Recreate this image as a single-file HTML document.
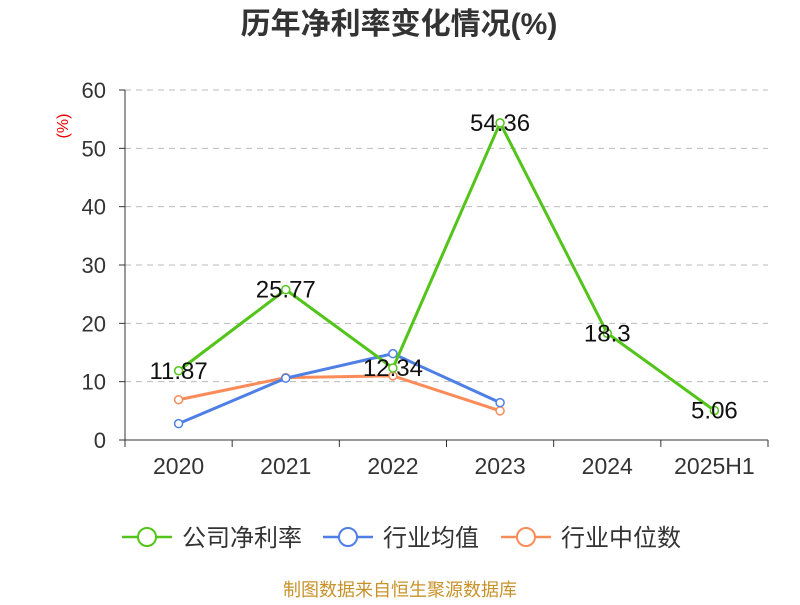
<!DOCTYPE html>
<html><head><meta charset="utf-8"><style>
body{margin:0;background:#fff;font-family:"Liberation Sans","Noto Sans CJK SC",sans-serif}
</style></head><body>
<svg width="800" height="600" xmlns="http://www.w3.org/2000/svg" font-family="Liberation Sans, Noto Sans CJK SC, sans-serif">
<text x="399" y="34" text-anchor="middle" font-size="30" font-weight="bold" fill="#333">历年净利率变化情况(%)</text>
<text x="68" y="126" font-size="16" fill="#e00" transform="rotate(-90 68 126)" text-anchor="middle">(%)</text>
<g id="grid"></g><g id="axes"></g><g id="series"></g>
<g font-size="24" fill="#333">
<g><line x1="122" y1="537" x2="172" y2="537" stroke="#52c41a" stroke-width="2.5"/><circle cx="147" cy="537" r="9" fill="#fff" stroke="#52c41a" stroke-width="2"/><text x="182" y="546">公司净利率</text></g>
<g><line x1="323" y1="537" x2="373" y2="537" stroke="#4e7fe5" stroke-width="2.5"/><circle cx="348" cy="537" r="9" fill="#fff" stroke="#4e7fe5" stroke-width="2"/><text x="383" y="546">行业均值</text></g>
<g><line x1="501" y1="537" x2="551" y2="537" stroke="#fa8c5a" stroke-width="2.5"/><circle cx="526" cy="537" r="9" fill="#fff" stroke="#fa8c5a" stroke-width="2"/><text x="561" y="546">行业中位数</text></g>
</g>
<text x="400" y="596" text-anchor="middle" font-size="18" fill="#c8922a">制图数据来自恒生聚源数据库</text>
</svg>
<script>
const categories=["2020","2021","2022","2023","2024","2025H1"];
const companyValues=[11.87,25.77,12.34,54.36,18.3,5.06];
const industryAvg=[2.8,10.6,14.8,6.4];
const industryMedian=[6.9,10.7,11.0,5.0];
const yTicks=[0,10,20,30,40,50,60];
const NS="http://www.w3.org/2000/svg";
const x0=125,x1=768,y0=440,y1=90;
const band=(x1-x0)/categories.length;
const xPos=i=>x0+band*(i+0.5);
const yPos=v=>y0-(v/60)*(y0-y1);
function mk(p,t,a){const e=document.createElementNS(NS,t);for(const k in a)e.setAttribute(k,a[k]);p.appendChild(e);return e;}
const grid=document.getElementById('grid'),axes=document.getElementById('axes'),ser=document.getElementById('series');
yTicks.forEach(v=>{
 if(v>0){const g=mk(grid,'line',{x1:x0,x2:x1,y1:yPos(v),y2:yPos(v),stroke:'#bbb','stroke-dasharray':'6,5'});
 
 }
 const t=mk(axes,'text',{x:106,y:yPos(v)+8,'text-anchor':'end','font-size':22,fill:'#333'});t.textContent=v;
 
 
 mk(axes,'line',{x1:x0-6,x2:x0,y1:yPos(v),y2:yPos(v),stroke:'#333'});
});
const ya=mk(axes,'line',{x1:x0,x2:x0,y1:y1,y2:y0,stroke:'#333'});


const xa=mk(axes,'line',{x1:x0,x2:x1,y1:y0,y2:y0,stroke:'#333'});


for(let i=0;i<=categories.length;i++)mk(axes,'line',{x1:x0+band*i,x2:x0+band*i,y1:y0,y2:y0+7,stroke:'#333'});
categories.forEach((c,i)=>{const t=mk(axes,'text',{x:xPos(i),y:474,'text-anchor':'middle','font-size':23,fill:'#333'});t.textContent=c;
 
 });
function series(vals,color,name){
 const pts=vals.map((v,i)=>xPos(i)+','+yPos(v)).join(' ');
 const pl=mk(ser,'polyline',{points:pts,fill:'none',stroke:color,'stroke-width':3});
 
 
 vals.forEach((v,i)=>{const c=mk(ser,'circle',{cx:xPos(i),cy:yPos(v),r:4,fill:'#fff',stroke:color,'stroke-width':1.5});
  
  });
}
series(industryMedian,'#fa8c5a','industry-median');
series(industryAvg,'#4e7fe5','industry-avg');
series(companyValues,'#52c41a','company');
companyValues.forEach((v,i)=>{const t=mk(ser,'text',{x:xPos(i),y:yPos(v)+8,'text-anchor':'middle','font-size':24,fill:'#111'});t.textContent=v;
 
 });
</script>
</body></html>
